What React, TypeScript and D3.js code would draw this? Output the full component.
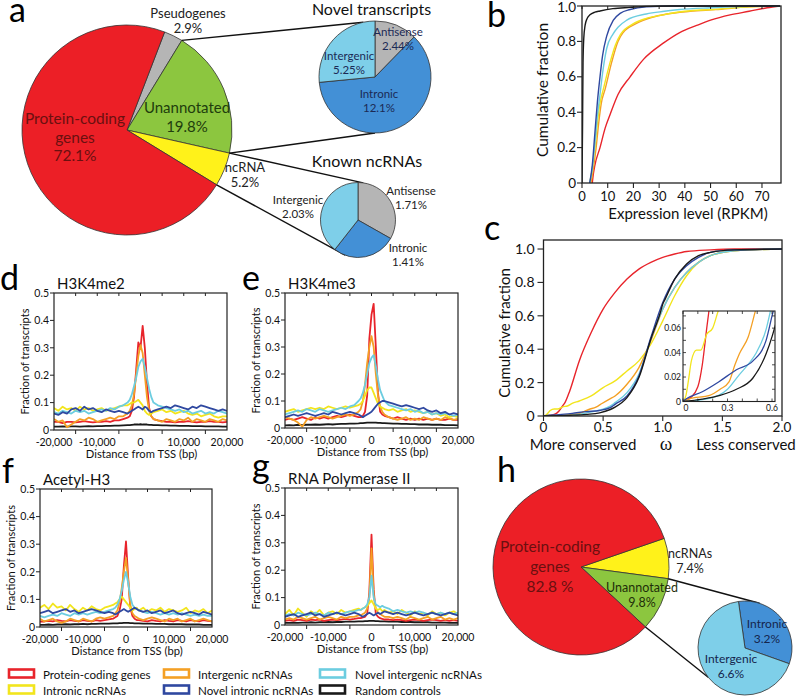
import React from "react";
import * as d3 from "d3";

const FONT = "Lato, 'Open Sans', 'DejaVu Sans', sans-serif";

// ---------- Panel a / h pie data ----------
const pieACategories = ["Pseudogenes", "Unannotated", "ncRNA", "Protein-coding genes"];
const pieAValues = [2.9, 19.8, 5.2, 72.1];
const novelCategories = ["Antisense", "Intronic", "Intergenic"];
const novelValues = [2.44, 12.1, 5.25];
const knownCategories = ["Antisense", "Intronic", "Intergenic"];
const knownValues = [1.71, 1.41, 2.03];
const pieHCategories = ["ncRNAs", "Unannotated", "Protein-coding genes"];
const pieHValues = [7.4, 9.8, 82.8];
const pieHSubCategories = ["Intronic", "Intergenic"];
const pieHSubValues = [3.2, 6.6];

// ---------- Series ----------
const SERIES = ["Protein-coding genes", "Intronic ncRNAs", "Intergenic ncRNAs", "Novel intronic ncRNAs", "Novel intergenic ncRNAs", "Random controls"];
const SERIES_COLORS = ["#e8242b", "#f2e51d", "#f4a025", "#2f48a0", "#6ccde0", "#1a1a1a"];

// ---------- Panel b: cumulative expression (RPKM, fraction) ----------
const bCoding = [[4,0],[4.4,0.05],[5,0.1],[7,0.2],[9,0.31],[11,0.39],[14,0.5],[18.7,0.6],[24,0.7],[31.6,0.79],[38,0.85],[44.6,0.89],[50,0.92],[57.6,0.95],[65,0.97],[72,0.99],[77,1]];
const bIntronic = [[3,0],[4,0.08],[5,0.2],[6,0.34],[7,0.45],[8.3,0.53],[10.9,0.68],[13,0.78],[15,0.84],[20,0.9],[25,0.93],[31.6,0.95],[40,0.97],[51,0.98],[65,0.995],[77,1]];
const bIntergenic = [[3.5,0],[4.4,0.08],[5.5,0.2],[6.5,0.34],[7.5,0.45],[9,0.53],[11.5,0.68],[14,0.8],[16,0.85],[21,0.9],[27,0.935],[33,0.955],[42,0.97],[52,0.98],[65,0.995],[77,1]];
const bNovelIntergenic = [[3,0],[4,0.08],[5,0.22],[6,0.38],[7,0.5],[8,0.62],[9.6,0.76],[12,0.84],[14,0.88],[17.4,0.92],[25,0.955],[32,0.97],[38,0.98],[50,0.99],[65,0.998],[77,1]];
const bNovelIntronic = [[3,0],[4,0.1],[5,0.28],[6,0.46],[7,0.6],[8,0.72],[9.6,0.83],[12.2,0.92],[15,0.96],[18.7,0.98],[25,0.995],[35,1],[77,1]];
const bRandom = [[0,0],[0.2,0.3],[0.4,0.68],[0.7,0.82],[1.2,0.89],[2,0.93],[3.1,0.95],[5,0.965],[7,0.972],[12,0.985],[18.7,0.992],[25,0.998],[35,1],[77,1]];
const bXTicks = [0, 10, 20, 30, 40, 50, 60, 70];
const cumTicks = [0, 0.2, 0.4, 0.6, 0.8, 1.0];

// ---------- Panel c: cumulative omega ----------
const cCoding = [[0,0],[0.05,0.003],[0.1,0.012],[0.13,0.03],[0.16,0.06],[0.18,0.08],[0.22,0.15],[0.3,0.33],[0.4,0.5],[0.5,0.64],[0.6,0.74],[0.7,0.82],[0.8,0.88],[0.9,0.92],[1.0,0.95],[1.1,0.97],[1.2,0.985],[1.4,0.995],[1.6,1],[2,1]];
const cIntronic = [[0,0],[0.02,0.005],[0.04,0.02],[0.056,0.033],[0.09,0.042],[0.12,0.042],[0.16,0.055],[0.2,0.06],[0.24,0.075],[0.3,0.09],[0.4,0.12],[0.5,0.17],[0.6,0.21],[0.7,0.27],[0.8,0.33],[0.9,0.43],[1.0,0.57],[1.1,0.72],[1.2,0.84],[1.3,0.92],[1.4,0.96],[1.6,0.99],[2,1]];
const cIntergenic = [[0,0],[0.04,0.002],[0.18,0.005],[0.25,0.01],[0.31,0.016],[0.35,0.03],[0.38,0.039],[0.44,0.053],[0.49,0.075],[0.55,0.1],[0.6,0.12],[0.7,0.19],[0.8,0.29],[0.9,0.45],[1.0,0.64],[1.1,0.77],[1.2,0.86],[1.3,0.92],[1.4,0.96],[1.6,0.99],[2,1]];
const cNovelIntergenic = [[0,0],[0.1,0.001],[0.24,0.005],[0.3,0.01],[0.38,0.022],[0.45,0.032],[0.49,0.039],[0.56,0.059],[0.6,0.08],[0.7,0.14],[0.8,0.25],[0.9,0.46],[1.0,0.64],[1.1,0.77],[1.2,0.86],[1.3,0.92],[1.4,0.96],[1.6,0.99],[2,1]];
const cNovelIntronic = [[0,0],[0.02,0.002],[0.13,0.008],[0.24,0.016],[0.36,0.026],[0.47,0.033],[0.56,0.05],[0.6,0.07],[0.7,0.12],[0.8,0.24],[0.9,0.47],[1.0,0.68],[1.1,0.82],[1.2,0.9],[1.3,0.95],[1.4,0.98],[1.6,0.995],[2,1]];
const cRandom = [[0,0],[0.13,0.002],[0.25,0.005],[0.36,0.01],[0.47,0.019],[0.56,0.039],[0.6,0.053],[0.7,0.11],[0.8,0.23],[0.9,0.46],[0.98,0.62],[1.0,0.67],[1.02,0.7],[1.1,0.82],[1.2,0.91],[1.3,0.96],[1.4,0.98],[1.6,0.995],[2,1]];
const cXTicks = [0, 0.5, 1.0, 1.5, 2.0];
const insetYTicks = [0, 0.02, 0.04, 0.06];
const insetXTicks = [0, 0.3, 0.6];

// ---------- Panels d-g: TSS profiles ----------
const tssPositions = [-20000,-19000,-18000,-17000,-16000,-15000,-14000,-13000,-12000,-11000,-10000,-9000,-8000,-7000,-6000,-5000,-4000,
  -3000,-2500,-2000,-1500,-1000,-500,0,500,1000,1500,2000,2500,3000,
  4000,5000,6000,7000,8000,9000,10000,11000,12000,13000,14000,15000,16000,17000,18000,19000,20000];
const tssLabelTicks = [-20000, -10000, 0, 10000, 20000];
const fracTicks = [0, 0.1, 0.2, 0.3, 0.4, 0.5];

// H3K4me2
const me2Coding = [0.03,0.03,0.025,0.03,0.03,0.028,0.03,0.032,0.03,0.028,0.03,0.03,0.032,0.03,0.035,0.035,0.04,
  0.045,0.05,0.07,0.12,0.22,0.32,0.3,0.38,0.3,0.17,0.08,0.05,0.04,
  0.035,0.032,0.03,0.03,0.028,0.03,0.03,0.032,0.03,0.028,0.03,0.03,0.032,0.03,0.03,0.028,0.03];
const me2Intergenic = [0.04,0.03,0.035,0.01,0.02,0.03,0.04,0.035,0.045,0.04,0.03,0.035,0.04,0.045,0.04,0.05,0.05,
  0.06,0.07,0.09,0.13,0.2,0.27,0.31,0.28,0.2,0.12,0.07,0.05,0.04,
  0.035,0.03,0.04,0.035,0.03,0.04,0.035,0.045,0.03,0.04,0.035,0.03,0.04,0.035,0.03,0.04,0.035];
const me2NovelIntergenic = [0.065,0.06,0.07,0.065,0.06,0.07,0.065,0.07,0.06,0.065,0.07,0.075,0.07,0.08,0.075,0.085,0.09,
  0.1,0.11,0.13,0.16,0.19,0.23,0.25,0.26,0.23,0.19,0.15,0.12,0.1,
  0.09,0.085,0.08,0.075,0.07,0.075,0.065,0.07,0.06,0.065,0.07,0.06,0.065,0.06,0.07,0.065,0.06];
const me2Intronic = [0.08,0.07,0.085,0.075,0.08,0.07,0.085,0.075,0.08,0.07,0.075,0.08,0.07,0.075,0.08,0.085,0.09,
  0.09,0.095,0.1,0.1,0.105,0.11,0.1,0.09,0.07,0.06,0.055,0.06,0.065,
  0.07,0.075,0.065,0.07,0.06,0.065,0.07,0.06,0.055,0.06,0.05,0.055,0.06,0.05,0.045,0.05,0.05];
const me2NovelIntronic = [0.06,0.055,0.065,0.06,0.075,0.08,0.07,0.085,0.075,0.08,0.07,0.065,0.075,0.07,0.065,0.07,0.065,
  0.06,0.065,0.07,0.075,0.08,0.085,0.08,0.075,0.085,0.08,0.07,0.065,0.07,
  0.075,0.08,0.085,0.08,0.09,0.085,0.08,0.075,0.085,0.08,0.09,0.085,0.08,0.075,0.07,0.075,0.07];
const me2Random = [0.012,0.012,0.013,0.012,0.013,0.013,0.012,0.013,0.014,0.013,0.014,0.014,0.015,0.015,0.016,0.016,0.017,
  0.018,0.018,0.019,0.02,0.02,0.02,0.021,0.02,0.02,0.02,0.019,0.019,0.018,
  0.018,0.017,0.017,0.016,0.016,0.015,0.015,0.015,0.014,0.014,0.014,0.013,0.013,0.013,0.013,0.012,0.012];

// H3K4me3
const me3Coding = [0.03,0.035,0.03,0.035,0.04,0.035,0.03,0.04,0.035,0.04,0.035,0.04,0.045,0.04,0.045,0.05,0.045,
  0.04,0.04,0.045,0.06,0.12,0.33,0.42,0.46,0.3,0.13,0.06,0.05,0.045,
  0.04,0.035,0.04,0.035,0.03,0.035,0.03,0.035,0.03,0.035,0.03,0.035,0.03,0.03,0.035,0.03,0.03];
const me3Intergenic = [0.04,0.035,0.03,0.02,0.005,0.03,0.04,0.035,0.04,0.045,0.04,0.035,0.04,0.045,0.05,0.045,0.05,
  0.06,0.07,0.1,0.16,0.24,0.3,0.34,0.3,0.2,0.12,0.08,0.06,0.05,
  0.04,0.035,0.03,0.035,0.04,0.03,0.035,0.03,0.04,0.035,0.03,0.035,0.03,0.04,0.035,0.03,0.035];
const me3NovelIntergenic = [0.05,0.055,0.06,0.065,0.06,0.07,0.065,0.06,0.07,0.065,0.06,0.065,0.07,0.075,0.07,0.08,0.085,
  0.1,0.11,0.13,0.16,0.2,0.24,0.26,0.27,0.23,0.18,0.14,0.12,0.1,
  0.085,0.08,0.075,0.07,0.065,0.07,0.06,0.065,0.055,0.06,0.05,0.055,0.05,0.055,0.05,0.045,0.05];
const me3Intronic = [0.06,0.065,0.07,0.06,0.065,0.07,0.075,0.07,0.075,0.07,0.08,0.075,0.07,0.075,0.08,0.075,0.08,
  0.085,0.09,0.1,0.12,0.14,0.15,0.15,0.13,0.11,0.09,0.08,0.075,0.07,
  0.065,0.07,0.06,0.065,0.07,0.06,0.065,0.06,0.055,0.06,0.05,0.055,0.045,0.05,0.04,0.045,0.04];
const me3NovelIntronic = [0.04,0.045,0.05,0.045,0.05,0.055,0.05,0.045,0.05,0.055,0.05,0.06,0.055,0.05,0.055,0.06,0.055,
  0.05,0.045,0.04,0.045,0.05,0.055,0.06,0.07,0.08,0.09,0.095,0.1,0.1,
  0.095,0.09,0.085,0.08,0.085,0.08,0.075,0.07,0.075,0.065,0.06,0.065,0.055,0.06,0.05,0.055,0.05];
const me3Random = [0.01,0.011,0.01,0.012,0.011,0.012,0.012,0.013,0.012,0.013,0.014,0.013,0.014,0.015,0.015,0.016,0.016,
  0.017,0.018,0.018,0.019,0.02,0.02,0.02,0.02,0.02,0.019,0.019,0.018,0.018,
  0.017,0.016,0.016,0.015,0.015,0.014,0.014,0.013,0.013,0.013,0.012,0.012,0.012,0.011,0.011,0.011,0.01];

// Acetyl-H3
const acCoding = [0.02,0.02,0.022,0.02,0.025,0.022,0.02,0.025,0.022,0.02,0.025,0.022,0.02,0.025,0.022,0.025,0.028,
  0.03,0.035,0.04,0.06,0.1,0.22,0.31,0.18,0.07,0.04,0.03,0.025,0.025,
  0.022,0.02,0.025,0.022,0.02,0.025,0.022,0.02,0.025,0.022,0.02,0.025,0.022,0.02,0.025,0.022,0.02];
const acIntergenic = [0.03,0.02,0.025,0.03,0.02,0.015,0.02,0.03,0.025,0.02,0.03,0.025,0.02,0.03,0.035,0.03,0.035,
  0.04,0.05,0.06,0.09,0.14,0.2,0.25,0.17,0.08,0.05,0.04,0.035,0.03,
  0.025,0.03,0.035,0.03,0.025,0.02,0.03,0.025,0.03,0.02,0.025,0.03,0.02,0.025,0.03,0.025,0.02];
const acNovelIntergenic = [0.04,0.035,0.04,0.045,0.04,0.05,0.045,0.04,0.05,0.045,0.05,0.045,0.05,0.055,0.05,0.055,0.06,
  0.065,0.07,0.08,0.1,0.13,0.17,0.2,0.16,0.11,0.08,0.07,0.065,0.06,
  0.055,0.05,0.055,0.05,0.045,0.05,0.045,0.05,0.045,0.05,0.045,0.04,0.045,0.04,0.045,0.04,0.04];
const acIntronic = [0.07,0.08,0.065,0.085,0.07,0.075,0.06,0.08,0.065,0.055,0.07,0.06,0.075,0.065,0.06,0.07,0.075,
  0.08,0.085,0.09,0.1,0.11,0.1,0.09,0.08,0.07,0.06,0.065,0.07,0.06,
  0.07,0.055,0.065,0.06,0.07,0.055,0.065,0.06,0.055,0.06,0.07,0.05,0.06,0.055,0.065,0.05,0.06];
const acNovelIntronic = [0.05,0.055,0.06,0.05,0.055,0.06,0.065,0.055,0.06,0.05,0.055,0.06,0.065,0.06,0.055,0.05,0.055,
  0.05,0.045,0.05,0.055,0.06,0.065,0.06,0.055,0.06,0.065,0.07,0.065,0.06,
  0.055,0.06,0.05,0.055,0.06,0.05,0.055,0.06,0.05,0.045,0.05,0.055,0.05,0.045,0.055,0.05,0.045];
const acRandom = [0.008,0.008,0.009,0.008,0.009,0.009,0.01,0.009,0.01,0.01,0.011,0.01,0.011,0.011,0.012,0.012,0.012,
  0.013,0.013,0.013,0.014,0.014,0.015,0.015,0.015,0.014,0.014,0.013,0.013,0.013,
  0.012,0.012,0.012,0.011,0.011,0.011,0.01,0.01,0.01,0.01,0.009,0.009,0.009,0.009,0.008,0.008,0.008];

// RNA Polymerase II
const polCoding = [0.015,0.018,0.015,0.02,0.018,0.015,0.02,0.018,0.02,0.015,0.018,0.02,0.018,0.02,0.022,0.02,0.022,
  0.025,0.025,0.028,0.03,0.04,0.12,0.33,0.13,0.04,0.03,0.025,0.022,0.02,
  0.02,0.018,0.02,0.018,0.015,0.018,0.02,0.018,0.015,0.018,0.02,0.018,0.015,0.018,0.015,0.018,0.015];
const polIntergenic = [0.02,0.025,0.02,0.03,0.025,0.02,0.025,0.03,0.02,0.025,0.03,0.025,0.02,0.03,0.025,0.03,0.03,
  0.035,0.035,0.04,0.045,0.06,0.1,0.28,0.11,0.06,0.045,0.04,0.035,0.03,
  0.03,0.025,0.03,0.025,0.02,0.03,0.025,0.02,0.025,0.03,0.02,0.025,0.03,0.02,0.025,0.02,0.025];
const polNovelIntergenic = [0.035,0.04,0.035,0.045,0.04,0.035,0.04,0.045,0.04,0.035,0.045,0.04,0.045,0.04,0.045,0.05,0.05,
  0.055,0.055,0.06,0.065,0.075,0.1,0.18,0.1,0.075,0.07,0.065,0.07,0.065,
  0.06,0.05,0.055,0.05,0.045,0.05,0.045,0.05,0.045,0.04,0.045,0.04,0.045,0.04,0.045,0.04,0.045];
const polIntronic = [0.04,0.055,0.035,0.06,0.045,0.03,0.05,0.04,0.055,0.035,0.045,0.05,0.04,0.055,0.045,0.05,0.055,
  0.06,0.055,0.06,0.065,0.07,0.08,0.09,0.075,0.06,0.055,0.06,0.05,0.055,
  0.045,0.05,0.04,0.055,0.045,0.035,0.05,0.04,0.045,0.035,0.05,0.04,0.045,0.035,0.045,0.05,0.04];
const polNovelIntronic = [0.03,0.035,0.04,0.03,0.035,0.04,0.045,0.035,0.04,0.03,0.035,0.04,0.045,0.04,0.035,0.04,0.045,
  0.04,0.035,0.03,0.035,0.04,0.045,0.04,0.035,0.04,0.045,0.04,0.045,0.05,
  0.045,0.04,0.045,0.04,0.035,0.04,0.045,0.04,0.035,0.04,0.045,0.04,0.035,0.04,0.045,0.04,0.035];
const polRandom = [0.008,0.008,0.009,0.008,0.009,0.009,0.01,0.009,0.01,0.01,0.011,0.01,0.011,0.011,0.012,0.012,0.012,
  0.013,0.013,0.013,0.014,0.014,0.015,0.015,0.015,0.014,0.014,0.013,0.013,0.013,
  0.012,0.012,0.012,0.011,0.011,0.011,0.01,0.01,0.01,0.01,0.009,0.009,0.009,0.009,0.008,0.008,0.008];

// ---------- colours ----------
const RED = SERIES_COLORS[0], YELLOW = SERIES_COLORS[1], ORANGE = SERIES_COLORS[2], BLUE = SERIES_COLORS[3], CYAN = SERIES_COLORS[4], BLACK = SERIES_COLORS[5];
const PIE_RED = "#ec1f26", PIE_GRAY = "#b5b5b5", PIE_GREEN = "#8cc63f", PIE_YELLOW = "#fff21a", PIE_BLUE = "#4390d6", PIE_LIGHT = "#7ecfe9";
const AXIS = "#222";

const polar = (cx: number, cy: number, r: number, a: number) => [cx + r * Math.sin(a), cy - r * Math.cos(a)];
const DEG = Math.PI / 180;

function Pie({ cx, cy, r, values, colors, start }: any) {
  const arcs = d3.pie<number>().sort(null).startAngle(start).endAngle(start + 2 * Math.PI)(values);
  const arc = d3.arc<any>().innerRadius(0).outerRadius(r);
  return (
    <g transform={`translate(${cx},${cy})`}>
      {arcs.map((a, i) => (
        <path key={i} d={arc(a) as string} fill={colors[i]} stroke="#333" strokeWidth={0.8} strokeLinejoin="round" />
      ))}
    </g>
  );
}

function Lines({ lines, size, fill, x, anchor = "middle", y0, dy, weight }: any) {
  return (
    <text fontSize={size} fill={fill} textAnchor={anchor} fontWeight={weight}>
      {lines.map((t: string, i: number) => (
        <tspan key={i} x={x} y={y0 + i * dy}>{t}</tspan>
      ))}
    </text>
  );
}

function PanelA() {
  const cx = 127, cy = 130, r = 105;
  const start = 21 * DEG;
  const arcs = d3.pie<number>().sort(null).startAngle(start).endAngle(start + 2 * Math.PI)(pieAValues);
  const pGrayGreen = polar(cx, cy, r, arcs[0].endAngle);
  const pGreenYellow = polar(cx, cy, r, arcs[1].endAngle);
  const pYellowRed = polar(cx, cy, r, arcs[2].endAngle);
  const nC = [375, 77], nR = 56;
  const kC = [358, 220], kR = 37.5;
  const nTop = polar(nC[0], nC[1], nR, -12 * DEG);
  const nBot = polar(nC[0], nC[1], nR, 180 * DEG);
  const kTop = polar(kC[0], kC[1], kR, 8 * DEG);
  const kBot = polar(kC[0], kC[1], kR, 200 * DEG);
  const ln = (a: number[], b: number[], k: string) => (
    <line key={k} x1={a[0]} y1={a[1]} x2={b[0]} y2={b[1]} stroke="#111" strokeWidth={1.4} />
  );
  return (
    <g>
      <Pie cx={cx} cy={cy} r={r} values={pieAValues} colors={[PIE_GRAY, PIE_GREEN, PIE_YELLOW, PIE_RED]} start={start} />
      {ln(pGrayGreen, nTop, "l1")}
      {ln(pGreenYellow, nBot, "l2")}
      {ln(pGreenYellow, kTop, "l3")}
      {ln(pYellowRed, kBot, "l4")}
      <Pie cx={nC[0]} cy={nC[1]} r={nR} values={novelValues} colors={[PIE_GRAY, PIE_BLUE, PIE_LIGHT]} start={0} />
      <Pie cx={kC[0]} cy={kC[1]} r={kR} values={knownValues} colors={[PIE_GRAY, PIE_BLUE, PIE_LIGHT]} start={0} />
      <Lines lines={[pieACategories[0], pieAValues[0] + "%"]} size={13} fill="#222" x={188} y0={18} dy={14.5} />
      <Lines lines={["Protein-coding", "genes", pieAValues[3] + "%"]} size={15.5} fill="#6a1010" x={75} y0={124} dy={18.5} />
      <Lines lines={[pieACategories[1], pieAValues[1] + "%"]} size={15} fill="#213d0d" x={187} y0={113} dy={19} />
      <Lines lines={[pieACategories[2], pieAValues[2] + "%"]} size={13} fill="#222" x={245} y0={172} dy={15} />
      <text x={371.5} y={15} fontSize={16} textAnchor="middle" fill="#111">Novel transcripts</text>
      <Lines lines={[novelCategories[0], novelValues[0] + "%"]} size={11.5} fill="#1b2a55" x={398} y0={36} dy={14} />
      <Lines lines={[novelCategories[2], novelValues[2] + "%"]} size={11.5} fill="#1b2a55" x={349} y0={60} dy={14} />
      <Lines lines={[novelCategories[1], novelValues[1] + "%"]} size={11.5} fill="#1b2a55" x={379} y0={98} dy={14} />
      <text x={367} y={167} fontSize={16} textAnchor="middle" fill="#111">Known ncRNAs</text>
      <Lines lines={[knownCategories[0], knownValues[0] + "%"]} size={11.5} fill="#222" x={411} y0={195} dy={13.5} />
      <Lines lines={[knownCategories[1], knownValues[1] + "%"]} size={11.5} fill="#222" x={408} y0={252} dy={13.5} />
      <Lines lines={[knownCategories[2], knownValues[2] + "%"]} size={11.5} fill="#222" x={298} y0={204} dy={13.5} />
    </g>
  );
}

function PanelB() {
  const L = 582, R = 781, T = 6, B = 183;
  const x = d3.scaleLinear().domain([0, 77.4]).range([L, R]);
  const y = d3.scaleLinear().domain([0, 1]).range([B, T]);
  const line = d3.line<number[]>().x(d => x(d[0])).y(d => y(d[1])).curve(d3.curveMonotoneX);
  const series = [[bCoding, RED], [bIntergenic, ORANGE], [bIntronic, YELLOW], [bNovelIntergenic, CYAN], [bNovelIntronic, BLUE], [bRandom, BLACK]];
  return (
    <g>
      <defs><clipPath id="clipB"><rect x={L} y={T - 1} width={R - L} height={B - T + 1} /></clipPath></defs>
      <g clipPath="url(#clipB)">
        {series.map((s: any, i) => <path key={i} d={line(s[0]) as string} fill="none" stroke={s[1]} strokeWidth={1.4} />)}
      </g>
      <rect x={L} y={T} width={R - L} height={B - T} fill="none" stroke={AXIS} strokeWidth={1.3} />
      {bXTicks.map(t => (
        <g key={t}>
          <line x1={x(t)} x2={x(t)} y1={B} y2={B + 5} stroke={AXIS} strokeWidth={1.1} />
          <line x1={x(t)} x2={x(t)} y1={T} y2={T + 3} stroke={AXIS} strokeWidth={1} />
          <text x={x(t)} y={B + 18} fontSize={13} textAnchor="middle" fill="#111">{t}</text>
        </g>
      ))}
      {cumTicks.map(t => (
        <g key={t}>
          <line x1={L - 5} x2={L} y1={y(t)} y2={y(t)} stroke={AXIS} strokeWidth={1.1} />
          <text x={L - 6} y={y(t) + 4.5 + (t === 1 ? 1 : 0)} fontSize={13.5} textAnchor="end" fill="#111">{t === 0 ? "0" : t.toFixed(1)}</text>
        </g>
      ))}
      <text x={688} y={219} fontSize={15} textAnchor="middle" fill="#111">Expression level (RPKM)</text>
      <text transform={`translate(548,90) rotate(-90)`} fontSize={15.5} textAnchor="middle" fill="#111">Cumulative fraction</text>
    </g>
  );
}

function PanelC() {
  const L = 543.5, R = 782, T = 240, B = 416;
  const x = d3.scaleLinear().domain([0, 2]).range([L, R]);
  const y = d3.scaleLinear().domain([0, 1.054]).range([B, T]);
  const line = d3.line<number[]>().x(d => x(d[0])).y(d => y(d[1])).curve(d3.curveMonotoneX);
  const series = [[cCoding, RED], [cIntronic, YELLOW], [cIntergenic, ORANGE], [cNovelIntergenic, CYAN], [cNovelIntronic, BLUE], [cRandom, BLACK]];
  // inset
  const iL = 683, iR = 775, iT = 311, iB = 401.5;
  const ix = d3.scaleLinear().domain([0, 0.62]).range([iL, iR]);
  const iy = d3.scaleLinear().domain([0, 0.074]).range([iB, iT]);
  const iline = d3.line<number[]>().x(d => ix(d[0])).y(d => iy(d[1])).curve(d3.curveMonotoneX);
  const iMinorY = d3.range(0, 0.0741, 0.01);
  const iMinorX = d3.range(0, 0.621, 0.1);
  return (
    <g>
      <defs>
        <clipPath id="clipC"><rect x={L} y={T} width={R - L} height={B - T} /></clipPath>
        <clipPath id="clipI"><rect x={iL} y={iT} width={iR - iL} height={iB - iT} /></clipPath>
      </defs>
      <g clipPath="url(#clipC)">
        {series.map((s: any, i) => <path key={i} d={line(s[0]) as string} fill="none" stroke={s[1]} strokeWidth={1.4} />)}
      </g>
      <rect x={L} y={T} width={R - L} height={B - T} fill="none" stroke={AXIS} strokeWidth={1.3} />
      {cXTicks.map(t => (
        <g key={t}>
          <line x1={x(t)} x2={x(t)} y1={B} y2={B + 5} stroke={AXIS} strokeWidth={1.1} />
          <text x={x(t)} y={432} fontSize={13.5} textAnchor="middle" fill="#111">{t === 0 ? "0" : t.toFixed(1)}</text>
        </g>
      ))}
      {cumTicks.map(t => (
        <g key={t}>
          <line x1={L - 6} x2={L} y1={y(t)} y2={y(t)} stroke={AXIS} strokeWidth={1.1} />
          <text x={L - 9} y={y(t) + 5} fontSize={14} textAnchor="end" fill="#111">{t === 0 ? "0" : t.toFixed(1)}</text>
        </g>
      ))}
      <text transform={`translate(510,333) rotate(-90)`} fontSize={15} textAnchor="middle" fill="#111">Cumulative fraction</text>
      <text x={583} y={450} fontSize={15} textAnchor="middle" fill="#111">More conserved</text>
      <text x={666} y={450} fontSize={19} textAnchor="middle" fill="#111" fontFamily="'Liberation Serif', 'DejaVu Serif', serif">ω</text>
      <text x={746} y={450} fontSize={15} textAnchor="middle" fill="#111">Less conserved</text>
      {/* inset */}
      <rect x={iL} y={iT} width={iR - iL} height={iB - iT} fill="#fff" />
      <g clipPath="url(#clipI)">
        {series.map((s: any, i) => <path key={i} d={iline(s[0]) as string} fill="none" stroke={s[1]} strokeWidth={1.3} />)}
      </g>
      <rect x={iL} y={iT} width={iR - iL} height={iB - iT} fill="none" stroke={AXIS} strokeWidth={1.1} />
      {iMinorY.map((t, i) => (
        <g key={"iy" + i}>
          <line x1={iL} x2={iL + 3} y1={iy(t)} y2={iy(t)} stroke={AXIS} strokeWidth={0.8} />
          <line x1={iR - 3} x2={iR} y1={iy(t)} y2={iy(t)} stroke={AXIS} strokeWidth={0.8} />
        </g>
      ))}
      {iMinorX.map((t, i) => (
        <g key={"ix" + i}>
          <line x1={ix(t)} x2={ix(t)} y1={iB} y2={iB - 3} stroke={AXIS} strokeWidth={0.8} />
          <line x1={ix(t)} x2={ix(t)} y1={iT} y2={iT + 3} stroke={AXIS} strokeWidth={0.8} />
        </g>
      ))}
      {insetYTicks.map(t => (
        <text key={"yl" + t} x={iL - 2} y={iy(t) + 3} fontSize={8.5} textAnchor="end" fill="#111">{t === 0 ? "0" : t.toFixed(2)}</text>
      ))}
      {insetXTicks.map(t => (
        <text key={"xl" + t} x={ix(t) + (t === 0 ? 3 : 0)} y={iB + 9} fontSize={8.5} textAnchor="middle" fill="#111">{t === 0 ? "0" : t.toFixed(1)}</text>
      ))}
    </g>
  );
}

const fmtBp = (n: number) => (n < 0 ? "-" : "") + d3.format(",")(Math.abs(n));

function ProfilePanel({ id, L, R, T, B, title, series }: any) {
  const x = d3.scaleLinear().domain([-20000, 20000]).range([L, R]);
  const y = d3.scaleLinear().domain([0, 0.5]).range([B, T]);
  const line = d3.line<number>().x((_, i) => x(tssPositions[i])).y(v => y(v)).defined((_, i) => i < tssPositions.length);
  const bottomTicks = [-15000, -5000, 5000, 15000];
  const topTicks = d3.range(-15000, 15001, 5000);
  return (
    <g>
      <defs><clipPath id={id}><rect x={L} y={T} width={R - L} height={B - T} /></clipPath></defs>
      <g clipPath={`url(#${id})`}>
        {series.map((s: any, i: number) => (
          <path key={i} d={line(s[0]) as string} fill="none" stroke={s[1]} strokeWidth={1.8} strokeLinejoin="round" />
        ))}
      </g>
      <rect x={L} y={T} width={R - L} height={B - T} fill="none" stroke={AXIS} strokeWidth={1.2} />
      {fracTicks.map(t => (
        <g key={t}>
          <line x1={L - 4} x2={L} y1={y(t)} y2={y(t)} stroke={AXIS} strokeWidth={1} />
          <text x={L - 5} y={y(t) + 3.8} fontSize={10.5} textAnchor="end" fill="#111">{t === 0 ? "0" : t.toFixed(1)}</text>
        </g>
      ))}
      {bottomTicks.map(t => <line key={"b" + t} x1={x(t)} x2={x(t)} y1={B} y2={B + 4} stroke={AXIS} strokeWidth={1} />)}
      {topTicks.map(t => <line key={"t" + t} x1={x(t)} x2={x(t)} y1={T} y2={T + 3} stroke={AXIS} strokeWidth={1} />)}
      {tssLabelTicks.map(t => (
        <text key={"l" + t} x={x(t)} y={B + 16} fontSize={10.5} textAnchor="middle" fill="#111">{fmtBp(t)}</text>
      ))}
      <text x={(L + R) / 2 + 1} y={B + 28} fontSize={11.2} textAnchor="middle" fill="#111">Distance from TSS (bp)</text>
      <text transform={`translate(${L - 25},${(T + B) / 2}) rotate(-90)`} fontSize={11} textAnchor="middle" fill="#111">Fraction of transcripts</text>
      <text x={L + 3} y={T - 4} fontSize={15} fill="#111">{title}</text>
    </g>
  );
}

function PanelH() {
  const cx = 581, cy = 567, r = 88;
  const start = 71 * DEG;
  const arcs = d3.pie<number>().sort(null).startAngle(start).endAngle(start + 2 * Math.PI)(pieHValues);
  const pYG = polar(cx, cy, r, arcs[0].endAngle);
  const pGR = polar(cx, cy, r, arcs[1].endAngle);
  const sC = [745, 648], sR = 47;
  const sTop = polar(sC[0], sC[1], sR, 18 * DEG);
  const sBot = polar(sC[0], sC[1], sR, 231 * DEG);
  return (
    <g>
      <Pie cx={cx} cy={cy} r={r} values={pieHValues} colors={[PIE_YELLOW, PIE_GREEN, PIE_RED]} start={start} />
      <line x1={pYG[0]} y1={pYG[1]} x2={sTop[0]} y2={sTop[1]} stroke="#111" strokeWidth={1.4} />
      <line x1={pGR[0]} y1={pGR[1]} x2={sBot[0]} y2={sBot[1]} stroke="#111" strokeWidth={1.4} />
      <Pie cx={sC[0]} cy={sC[1]} r={sR} values={pieHSubValues} colors={[PIE_BLUE, PIE_LIGHT]} start={-8 * DEG} />
      <Lines lines={["Protein-coding", "genes", pieHValues[2] + " %"]} size={15.5} fill="#6a1010" x={550} y0={552} dy={20} />
      <Lines lines={[pieHCategories[0], pieHValues[0] + "%"]} size={12.5} fill="#222" x={690} y0={558} dy={15} />
      <Lines lines={[pieHCategories[1], pieHValues[1] + "%"]} size={12.5} fill="#1f2f0a" x={642} y0={592} dy={15} />
      <Lines lines={[pieHSubCategories[0], pieHSubValues[0] + "%"]} size={12} fill="#15254d" x={767} y0={628} dy={14.5} />
      <Lines lines={[pieHSubCategories[1], pieHSubValues[1] + "%"]} size={12} fill="#15254d" x={731} y0={663} dy={15} />
    </g>
  );
}

function Legend() {
  const cols = [[9, 43], [164, 198], [320, 355]];
  const rows = [674, 690];
  const order = [[0, 2, 4], [1, 3, 5]];
  return (
    <g>
      {order.map((row, ri) => row.map((si, ci) => (
        <g key={si}>
          <rect x={cols[ci][0]} y={rows[ri] - 4.5} width={25} height={8} fill="#fff" stroke={SERIES_COLORS[si]} strokeWidth={2.6} />
          <text x={cols[ci][1]} y={rows[ri] + 4.5} fontSize={11.6} fill="#111">{SERIES[si]}</text>
        </g>
      )))}
    </g>
  );
}

export default function App() {
  const profileSeries = (coding: number[], intergenic: number[], intronic: number[], novelInter: number[], novelIntron: number[], random: number[]) => [
    [random, BLACK], [coding, RED], [intergenic, ORANGE], [intronic, YELLOW], [novelInter, CYAN], [novelIntron, BLUE],
  ];
  const letters = [["a", 9, 22], ["b", 487, 27], ["c", 484, 240], ["d", 0, 290], ["e", 242, 290], ["f", 2, 483], ["g", 252, 478], ["h", 497, 482]];
  return (
    <svg width={800} height={698} viewBox="0 0 800 698" style={{ position: "absolute", left: 0, top: 0, display: "block" }} fontFamily={FONT}>
      <rect width={800} height={698} fill="#fff" />
      <PanelA />
      <PanelB />
      <PanelC />
      <ProfilePanel id="clipD" L={54} R={227} T={293} B={430} title="H3K4me2"
        series={profileSeries(me2Coding, me2Intergenic, me2Intronic, me2NovelIntergenic, me2NovelIntronic, me2Random)} />
      <ProfilePanel id="clipE" L={285} R={458} T={293} B={428} title="H3K4me3"
        series={profileSeries(me3Coding, me3Intergenic, me3Intronic, me3NovelIntergenic, me3NovelIntronic, me3Random)} />
      <ProfilePanel id="clipF" L={40} R={212} T={489} B={627} title="Acetyl-H3"
        series={profileSeries(acCoding, acIntergenic, acIntronic, acNovelIntergenic, acNovelIntronic, acRandom)} />
      <ProfilePanel id="clipG" L={285} R={458} T={488} B={625} title="RNA Polymerase II"
        series={profileSeries(polCoding, polIntergenic, polIntronic, polNovelIntergenic, polNovelIntronic, polRandom)} />
      <PanelH />
      <Legend />
      {letters.map(l => (
        <text key={l[0] as string} x={l[1] as number} y={l[2] as number} fontSize={34} fill="#000">{l[0]}</text>
      ))}
    </svg>
  );
}
